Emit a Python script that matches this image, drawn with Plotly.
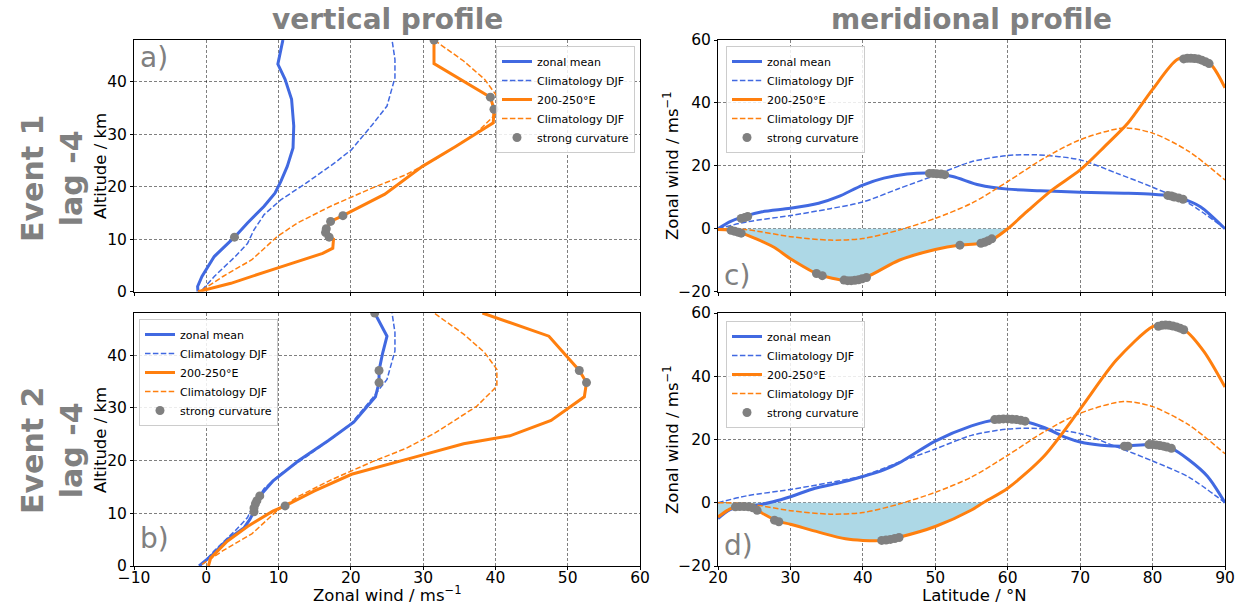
import plotly.graph_objects as go

# ---------------- data ----------------
# vertical profiles (wind u in m/s, altitude z in km)
clim_zm_vert_u = [-0.6, 1.1, 4.0, 5.7, 6.6, 8.0, 10.3, 13.8, 17.8, 20.1, 23.0, 25.0, 26.1, 26.1, 25.7]
clim_zm_vert_z = [0.3, 2.9, 6.7, 9.2, 11.8, 14.7, 17.5, 20.7, 24.6, 27.1, 31.9, 35.4, 40.8, 44.3, 48]
clim_sec_vert_u = [-0.6, 2.3, 6.3, 9.8, 12.6, 17.2, 23.0, 27.6, 31.6, 37.4, 40.2, 40.2, 38.5, 35.6, 31.5]
clim_sec_vert_z = [0.3, 2.9, 6.1, 10.5, 13.1, 16.3, 19.8, 22.3, 25.2, 30.3, 34.1, 37.3, 40.5, 44, 48]

ev1_zm_vert_u = [-1.15, -1.2, -0.6, 1.1, 3.9, 5.7, 8.0, 9.5, 10.3, 11.2, 12.0, 12.1, 11.8, 10.9, 9.9, 10.2, 10.6]
ev1_zm_vert_z = [0, 1, 2.9, 6.7, 10.4, 13.1, 16.3, 18.8, 21, 23.9, 27.4, 31.6, 36.7, 40.5, 43.4, 45.6, 48]
ev1_sec_vert_u = [-1.15, 3.4, 9.8, 16.1, 17.5, 17.6, 17.0, 16.5, 16.6, 17.2, 18.9, 24.7, 29.9, 34.5, 39.7, 39.8, 39.3, 31.5, 31.5]
ev1_sec_vert_z = [0, 1.6, 4.5, 7.3, 8.3, 10.0, 10.4, 11.3, 12.0, 13.4, 14.5, 18.6, 23.9, 27.7, 32.2, 34.8, 37.1, 43.5, 48]
ev1_dots_vert_u = [3.9, 17.0, 16.5, 16.6, 17.2, 18.9, 39.8, 39.3, 31.5]
ev1_dots_vert_z = [10.4, 10.4, 11.3, 12.0, 13.4, 14.5, 34.8, 37.1, 48]

ev2_zm_vert_u = [-1.0, 0.6, 2.9, 5.2, 6.0, 6.6, 6.6, 6.8, 7.0, 7.4, 9.2, 12.8, 16.9, 20.4, 23.4, 23.9, 23.9, 24.4, 25.0, 23.3]
ev2_zm_vert_z = [0, 1.8, 5.0, 7.2, 8.8, 10.3, 11.0, 11.8, 12.4, 13.3, 16.1, 20, 23.8, 27.3, 32.1, 34.8, 37.1, 40.4, 43.6, 48]
ev2_sec_vert_u = [0.3, 0.6, 2.9, 5.7, 9.2, 10.9, 14.9, 20.1, 28.7, 35.6, 42.0, 47.7, 52.3, 52.6, 51.6, 47.4, 38.2]
ev2_sec_vert_z = [0, 1.5, 4.7, 7.5, 10.4, 11.4, 14.2, 17.4, 20.6, 23.2, 24.7, 27.6, 32.1, 34.8, 37.1, 43.6, 48]
ev2_dots_vert_u = [6.6, 6.6, 6.8, 7.0, 7.4, 10.9, 23.9, 23.9, 23.3, 52.6, 51.6]
ev2_dots_vert_z = [10.3, 11.0, 11.8, 12.4, 13.3, 11.4, 34.8, 37.1, 48, 34.8, 37.1]

# meridional profiles (latitude in degN, wind in m/s)
clim_zm_mer_lat = [20, 24, 30, 35.5, 40, 45, 50, 55, 60, 64, 70, 75, 80, 85, 90]
clim_zm_mer_u = [0, 2.2, 4.2, 6.4, 8.5, 12.8, 17.0, 21.3, 23.3, 23.5, 21.9, 17.7, 13.2, 8.1, 0]
clim_sec_mer_lat = [20, 24, 30, 35.5, 40, 45, 50, 55, 60, 65, 70, 76, 80, 85, 90]
clim_sec_mer_u = [0, -0.3, -2.5, -3.6, -3.1, -0.4, 3.3, 8.1, 15.0, 22.4, 28.3, 32.0, 30.4, 24.6, 15.5]

ev1_zm_mer_lat = [20, 21.6, 23.4, 26.1, 30, 33.9, 36.6, 40, 42.9, 46.1, 49.5, 52.4, 56.1, 60, 64.5, 70, 76.1, 80, 82.4, 84.2, 86.6, 90]
ev1_zm_mer_u = [0, 2.2, 3.8, 5.4, 6.5, 8.1, 10.2, 13.9, 16.1, 17.4, 17.7, 16.6, 13.9, 12.6, 12.1, 11.6, 11.3, 11.0, 10.5, 9.5, 7.0, 0]
ev1_sec_mer_lat = [20, 21.6, 23.2, 27.6, 30, 33.9, 37.6, 40.5, 45, 50, 53.2, 56.1, 57.9, 60, 62.9, 66.1, 70, 73.4, 76.6, 80, 83.4, 85.5, 87.9, 90]
ev1_sec_mer_u = [-0.2, -0.4, -1.3, -5.7, -9.5, -14.5, -16.4, -15.3, -10, -6.6, -5.2, -4.7, -3.4, 0, 6.0, 12.3, 18.7, 26.2, 33.6, 44.3, 53.8, 54.7, 52.6, 44.8]
ev1_dots_mer_lat = [23.2, 23.7, 24.1, 49.2, 49.7, 50.2, 50.8, 51.3, 82.1, 82.6, 83.0, 83.6, 84.2,
                    21.8, 22.3, 22.8, 23.2, 33.6, 34.4, 37.4, 37.9, 38.4, 38.9, 39.4, 39.9, 40.5,
                    53.4, 56.3, 56.8, 57.3, 57.8, 84.3, 84.8, 85.3, 85.8, 86.3, 86.8, 87.3, 87.8]
ev1_dots_mer_u = [3.3, 3.6, 3.9, 17.6, 17.6, 17.5, 17.4, 17.2, 10.6, 10.4, 10.1, 9.8, 9.4,
                  -0.5, -0.8, -1.1, -1.4, -14.2, -14.9, -16.3, -16.5, -16.5, -16.4, -16.2, -15.9, -15.5,
                  -5.2, -4.6, -4.3, -3.8, -3.2, 54.0, 54.2, 54.2, 54.1, 54.0, 53.6, 53.1, 52.5]

ev2_zm_mer_lat = [20, 21.6, 22.9, 25.5, 27.6, 30, 33.4, 36.6, 40, 42.9, 45, 50, 55, 58.2, 62.4, 65, 68.2, 70, 72.9, 76.1, 80, 82.6, 85, 87.6, 90]
ev2_zm_mer_u = [-5.0, -2.3, -1.3, -0.7, 0.3, 1.9, 4.6, 6.2, 8.3, 10.4, 12.6, 19.5, 24.3, 26.2, 25.6, 23.8, 20.5, 19.2, 18.2, 17.9, 18.4, 17.2, 13.6, 8.3, 0]
ev2_sec_mer_lat = [20, 21.6, 22.9, 23.9, 25.5, 28.2, 30, 33.9, 37.6, 40, 42.9, 45, 50, 55, 56.6, 60, 65, 70, 75, 80, 81.8, 84.5, 87.1, 90]
ev2_sec_mer_u = [-4.5, -2.0, -1.0, -1.0, -2.6, -5.8, -6.8, -9.3, -11.4, -11.9, -11.9, -10.9, -7.5, -2.3, 0, 4.6, 14.7, 29.6, 45.1, 55.7, 56.5, 54.5, 47.8, 36.6]
ev2_dots_mer_lat = [22.4, 23.0, 23.6, 24.2, 24.8, 25.4, 27.8, 28.4, 42.6, 43.2, 43.8, 44.4, 45.0,
                    58.2, 58.8, 59.4, 60.0, 60.6, 61.2, 61.8, 62.4, 76.1, 76.6,
                    79.5, 80.0, 80.5, 81.0, 81.5, 82.0, 82.6,
                    80.8, 81.3, 81.8, 82.3, 82.8, 83.3, 83.8, 84.3]
ev2_dots_mer_u = [-1.3, -1.2, -1.2, -1.3, -1.6, -2.4, -5.5, -6.0, -11.9, -11.8, -11.6, -11.3, -11.0,
                  26.3, 26.4, 26.5, 26.5, 26.4, 26.3, 26.1, 25.8, 17.9, 17.9,
                  18.4, 18.4, 18.3, 18.1, 17.9, 17.6, 17.2,
                  55.8, 56.1, 56.2, 56.1, 55.9, 55.6, 55.2, 54.7]

# ---------------- styling ----------------
BLUE = "#4169e1"
ORANGE = "#ff7f0e"
DOT = "#808080"
FONT = "DejaVu Sans"
SOLID_W = 3
DASH_W = 1.5
DASH = "5.5px,2.4px"

fig = go.Figure()


def add_panel(xa, ya, leg, zm, clim_zm, sec, clim_sec, dots, vertical, fill=None):
    shape = "linear" if vertical else "spline"
    if fill is not None:
        fx, fy = fill
        fig.add_trace(go.Scatter(x=fx, y=fy, mode="lines", fill="tozeroy",
                                 fillcolor="#add8e6", line=dict(width=0, shape=shape, smoothing=0.8),
                                 showlegend=False, hoverinfo="skip", xaxis=xa, yaxis=ya))
    items = [
        ("zonal mean", zm, BLUE, SOLID_W, "solid"),
        ("Climatology DJF", clim_zm, BLUE, DASH_W, DASH),
        ("200-250°E", sec, ORANGE, SOLID_W, "solid"),
        ("Climatology DJF", clim_sec, ORANGE, DASH_W, DASH),
    ]
    for name, (xx, yy), col, w, dash in items:
        fig.add_trace(go.Scatter(x=xx, y=yy, mode="lines", name=name,
                                 line=dict(color=col, width=w, dash=dash, shape=shape, smoothing=0.8),
                                 legend=leg, xaxis=xa, yaxis=ya))
    fig.add_trace(go.Scatter(x=dots[0], y=dots[1], mode="markers", name="strong curvature",
                             marker=dict(color=DOT, size=9, line=dict(width=0)),
                             legend=leg, xaxis=xa, yaxis=ya))


def neg_part(lat, u):
    # portion of the sector curve from the start until it first crosses back to >= 0
    idx = len(lat) - 1
    for i in range(1, len(lat)):
        if lat[i] > 26 and u[i] >= 0:
            idx = i
            break
    return lat[:idx + 1], u[:idx + 1]


add_panel("x", "y", "legend",
          (ev1_zm_vert_u, ev1_zm_vert_z), (clim_zm_vert_u, clim_zm_vert_z),
          (ev1_sec_vert_u, ev1_sec_vert_z), (clim_sec_vert_u, clim_sec_vert_z),
          (ev1_dots_vert_u, ev1_dots_vert_z), True)
add_panel("x2", "y2", "legend2",
          (ev2_zm_vert_u, ev2_zm_vert_z), (clim_zm_vert_u, clim_zm_vert_z),
          (ev2_sec_vert_u, ev2_sec_vert_z), (clim_sec_vert_u, clim_sec_vert_z),
          (ev2_dots_vert_u, ev2_dots_vert_z), True)
add_panel("x3", "y3", "legend3",
          (ev1_zm_mer_lat, ev1_zm_mer_u), (clim_zm_mer_lat, clim_zm_mer_u),
          (ev1_sec_mer_lat, ev1_sec_mer_u), (clim_sec_mer_lat, clim_sec_mer_u),
          (ev1_dots_mer_lat, ev1_dots_mer_u), False,
          fill=neg_part(ev1_sec_mer_lat, ev1_sec_mer_u))
add_panel("x4", "y4", "legend4",
          (ev2_zm_mer_lat, ev2_zm_mer_u), (clim_zm_mer_lat, clim_zm_mer_u),
          (ev2_sec_mer_lat, ev2_sec_mer_u), (clim_sec_mer_lat, clim_sec_mer_u),
          (ev2_dots_mer_lat, ev2_dots_mer_u), False,
          fill=neg_part(ev2_sec_mer_lat, ev2_sec_mer_u))

W, H = 1245, 605
LX = [134 / W, 640 / W]
RX = [718 / W, 1225 / W]
TY = [(H - 291.7) / H, (H - 40) / H]
BY = [(H - 566) / H, (H - 313) / H]

axis_common = dict(showline=True, mirror=True, linecolor="black", linewidth=1,
                   showgrid=True, gridcolor="rgba(0,0,0,0.5)", gridwidth=1, griddash="3px,2px",
                   zeroline=False, ticks="outside", ticklen=3, tickcolor="black", automargin=False,
                   tickfont=dict(family=FONT, size=15.5, color="black"))
xaxis_extra = dict(ticklabelstandoff=-6)

fig.update_layout(
    width=W, height=H,
    margin=dict(l=0, r=0, t=0, b=0, autoexpand=False),
    paper_bgcolor="white", plot_bgcolor="white",
    font=dict(family=FONT, color="black"),
    xaxis=dict(domain=LX, anchor="y", range=[-10, 60], dtick=10, showticklabels=False, **axis_common),
    yaxis=dict(domain=TY, anchor="x", range=[0, 48], tickvals=[0, 10, 20, 30, 40], **axis_common),
    xaxis2=dict(domain=LX, anchor="y2", range=[-10, 60], dtick=10, **axis_common, **xaxis_extra),
    yaxis2=dict(domain=BY, anchor="x2", range=[0, 48], tickvals=[0, 10, 20, 30, 40], **axis_common),
    xaxis3=dict(domain=RX, anchor="y3", range=[20, 90], dtick=10, showticklabels=False, **axis_common),
    yaxis3=dict(domain=TY, anchor="x3", range=[-20, 60], dtick=20, **axis_common),
    xaxis4=dict(domain=RX, anchor="y4", range=[20, 90], dtick=10, **axis_common, **xaxis_extra),
    yaxis4=dict(domain=BY, anchor="x4", range=[-20, 60], dtick=20, **axis_common),
)

leg_common = dict(bgcolor="rgba(255,255,255,0.85)", bordercolor="#cccccc", borderwidth=1,
                  font=dict(family=FONT, size=11, color="black"), tracegroupgap=0)
fig.update_layout(
    legend=dict(x=635 / W, y=(H - 46) / H, xanchor="right", yanchor="top", **leg_common),
    legend2=dict(x=139 / W, y=(H - 319) / H, xanchor="left", yanchor="top", **leg_common),
    legend3=dict(x=726 / W, y=(H - 46) / H, xanchor="left", yanchor="top", **leg_common),
    legend4=dict(x=726 / W, y=(H - 321) / H, xanchor="left", yanchor="top", **leg_common),
)

GRAY = "#808080"
ann = []


def add_text(text, px, py, size, color="black", angle=0, xanchor="center", yanchor="middle"):
    ann.append(dict(text=text, x=px / W, y=(H - py) / H, xref="paper", yref="paper",
                    showarrow=False, xanchor=xanchor, yanchor=yanchor, textangle=angle,
                    font=dict(family=FONT, size=size, color=color)))


# column titles and row labels
add_text("<b>vertical profile</b>", 387, 19, 28, GRAY)
add_text("<b>meridional profile</b>", 971, 19, 28, GRAY)
add_text("<b>Event 1<br>lag -4</b>", 52, 179, 30, GRAY, angle=-90)
add_text("<b>Event 2<br>lag -4</b>", 52, 451, 30, GRAY, angle=-90)

# axis titles
TS = 16.5
add_text("Altitude / km", 100, 166, TS, angle=-90)
add_text("Altitude / km", 100, 440, TS, angle=-90)
add_text("Zonal wind / ms<sup>−1</sup>", 671, 166, TS, angle=-90)
add_text("Zonal wind / ms<sup>−1</sup>", 671, 440, TS, angle=-90)
add_text("Zonal wind / ms<sup>−1</sup>", 387, 594, TS)
add_text("Latitude / °N", 974, 595, TS)

# panel letters
for txt, px, py in [("a)", 138, 57), ("b)", 138, 538), ("c)", 722, 275), ("d)", 722, 545)]:
    add_text(txt, px, py, 28, GRAY, xanchor="left")

fig.update_layout(annotations=ann)

fig.write_html("out.html")
